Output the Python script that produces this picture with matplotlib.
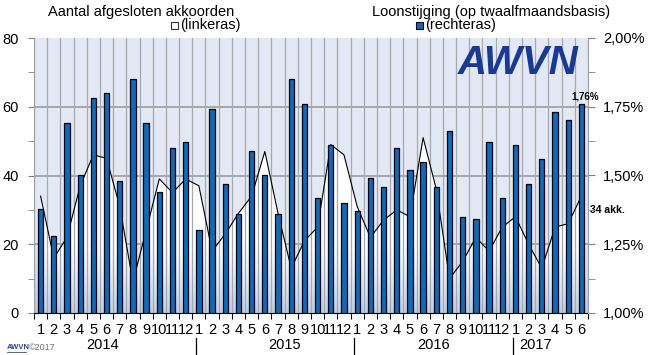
import numpy as np
import matplotlib
matplotlib.use('Agg')
import matplotlib.pyplot as plt
from matplotlib.patches import Rectangle
from matplotlib.lines import Line2D
from matplotlib.transforms import blended_transform_factory

plt.rcParams['font.family'] = ['Liberation Sans', 'DejaVu Sans']

# maanden 2014-1 t/m 2017-6
maanden = [str(m) for m in range(1, 13)] * 3 + [str(m) for m in range(1, 7)]
jaren = ['2014', '2015', '2016', '2017']

# aantal afgesloten akkoorden (linkeras)
akkoorden = [34, 16, 22, 37, 46, 45, 31, 9, 24, 39, 35, 39,
             37, 18, 23, 29, 34, 47, 29, 13, 21, 25, 49, 46,
             31, 22, 27, 30, 28, 51, 36, 10, 15, 22, 18, 25,
             28, 20, 13, 25, 26, 34]

# loonstijging op twaalfmaandsbasis in % (rechteras)
loonstijging = [1.38, 1.28, 1.69, 1.50, 1.78, 1.80, 1.48, 1.85, 1.69, 1.44, 1.60, 1.62,
                1.30, 1.74, 1.47, 1.36, 1.59, 1.50, 1.36, 1.85, 1.76, 1.42, 1.61, 1.40,
                1.37, 1.49, 1.46, 1.60, 1.52, 1.55, 1.46, 1.66, 1.35, 1.34, 1.62, 1.42,
                1.61, 1.47, 1.56, 1.73, 1.70, 1.76]

W, H = 656, 355
def px(x, y):
    return x / W, 1 - y / H

fig = plt.figure(figsize=(W / 100, H / 100), dpi=100)
ax = fig.add_axes([34 / W, 42 / H, 554 / W, 275 / H])
ax.set_facecolor('#e3e9f4')

x = np.arange(len(akkoorden))

# witte vlak onder de lijn + lijn
ax.fill_between(x, akkoorden, 0, color='white', lw=0, zorder=1)
ax.plot(x, akkoorden, color='black', lw=0.8, zorder=3)

# blauw verloop onderin
kleur = np.array(matplotlib.colors.to_rgb('#a9c1e2'))
n = 100
grad = np.zeros((n, 1, 4))
grad[:, 0, :3] = kleur
grad[:, 0, 3] = np.linspace(0.85, 0.0, n) ** 1.4
ax.imshow(grad, extent=(-0.5, len(x) - 0.5, 0, 22), origin='lower',
          aspect='auto', zorder=2, interpolation='bilinear')

# rasterlijnen
for v in (20, 40, 60):
    ax.axhline(v, color='#9c9c9c', lw=1.2, zorder=0.5)
for b in np.arange(-0.5, len(x), 1):
    ax.axvline(b, color='#a8a8a8', lw=0.9, zorder=2.5)

ax.set_xlim(-0.5, len(x) - 0.5)
ax.set_ylim(0, 80)

ax.set_xticks(np.arange(-0.5, len(x), 1))
ax.set_xticklabels([])
ax.set_xticks(x, minor=True)
ax.set_xticklabels(maanden, minor=True)
ax.tick_params(axis='x', which='major', length=4, direction='out', color='black')
ax.tick_params(axis='x', which='minor', length=0, pad=7, labelsize=10.5)

ax.set_yticks([0, 20, 40, 60, 80])
ax.set_yticks([10, 30, 50, 70], minor=True)
ax.tick_params(axis='y', which='both', length=4, direction='out', color='#808080',
               labelsize=10.5, pad=7)

for s in ('top', 'right'):
    ax.spines[s].set_visible(False)
ax.spines['left'].set_color('#a0a0a0')
ax.spines['bottom'].set_color('black')

# jaartallen onder de maanden
tr = blended_transform_factory(ax.transData, ax.transAxes)
jaar_pos = [4.66, 18.53, 29.8, 37.5]
for j, p in zip(jaren, jaar_pos):
    ax.text(p, -0.116, j, transform=tr, ha='center', va='center', fontsize=10.5)
for b in (11.8, 23.75, 35.8):
    ax.add_line(Line2D([b, b], [-0.09, -0.15], transform=tr, color='black',
                       lw=0.9, clip_on=False))

# staven op rechteras
ax2 = ax.twinx()
ax2.bar(x, np.array(loonstijging) - 1.0, bottom=1.0, width=0.4,
        color='#0b6cbf', edgecolor='black', lw=0.9, zorder=3)
ax2.set_ylim(1.0, 2.0)
ax2.set_yticks(np.arange(1.0, 2.01, 0.25))
ax2.set_yticks(np.arange(1.125, 2.0, 0.25), minor=True)
ax2.set_yticklabels([f'{v:.2f}%'.replace('.', ',') for v in np.arange(1.0, 2.01, 0.25)])
ax2.tick_params(axis='y', which='both', length=5, direction='out', color='#808080',
                labelsize=10.5, pad=6)
for s in ('top', 'left', 'bottom'):
    ax2.spines[s].set_visible(False)
ax2.spines['right'].set_color('#a0a0a0')

ax2.annotate(f'{loonstijging[-1]:.2f}%'.replace('.', ','), xy=(x[-1], loonstijging[-1]),
             xytext=(4, 7), textcoords='offset pixels', ha='center', va='center',
             fontsize=7, fontweight='bold', annotation_clip=False)
ax.annotate(f'{akkoorden[-1]} akk.', xy=(x[-1], akkoorden[-1]), xytext=(9, -14),
            textcoords='offset pixels', ha='left', va='center', fontsize=7.5,
            fontweight='bold', annotation_clip=False)

# logo
fig.text(*px(458, 74), 'AWVN', fontsize=29, fontweight='bold', fontstyle='italic',
         color='#16399a', ha='left', va='baseline')

# koppen / legenda
fig.text(*px(48, 12), 'Aantal afgesloten akkoorden', fontsize=10.5, ha='left', va='center')
fig.patches.append(Rectangle(px(171, 29), 7 / W, 7 / H, transform=fig.transFigure,
                             facecolor='white', edgecolor='#333333', lw=0.8))
fig.text(*px(180, 25), '(linkeras)', fontsize=10.5, ha='left', va='center')
fig.text(*px(372, 12), 'Loonstijging (op twaalfmaandsbasis)', fontsize=10.5,
         ha='left', va='center')
fig.patches.append(Rectangle(px(416, 29), 7 / W, 7 / H, transform=fig.transFigure,
                             facecolor='#0b6cbf', edgecolor='black', lw=0.8))
fig.text(*px(425, 25), '(rechteras)', fontsize=10.5, ha='left', va='center')

# bron
fig.text(*px(7, 347.5), 'AWVN', fontsize=5.5, fontweight='bold', color='#2a4a8f',
         ha='left', va='center')
fig.add_artist(Line2D([7 / W, 26 / W], [1 - 351.5 / H, 1 - 351.5 / H],
                      color='#2a4a8f', lw=0.6))
fig.text(*px(29, 347.5), '©2017', fontsize=6.5, color='#707070', ha='left', va='center')

fig.savefig('out.png', dpi=100)
